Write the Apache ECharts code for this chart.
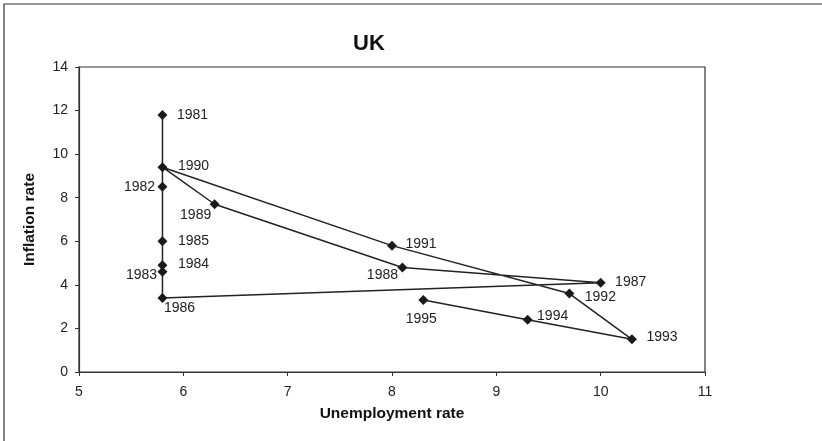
<!DOCTYPE html>
<html>
<head>
<meta charset="utf-8">
<script src="https://cdn.jsdelivr.net/npm/echarts@6/dist/echarts.min.js"></script>
<style>
html,body{margin:0;padding:0;background:#fff;}
#chart{width:822px;height:441px;}
</style>
</head>
<body>
<div id="chart"></div>
<script>
// ---- data ----
var years = ['1981','1982','1983','1984','1985','1986','1987','1988','1989','1990','1991','1992','1993','1994','1995'];
var unemployment = [5.8, 5.8, 5.8, 5.8, 5.8, 5.8, 10.0, 8.1, 6.3, 5.8, 8.0, 9.7, 10.3, 9.3, 8.3];
var inflation = [11.8, 8.5, 4.6, 4.9, 6.0, 3.4, 4.1, 4.8, 7.7, 9.4, 5.8, 3.6, 1.5, 2.4, 3.3];
var xTicks = [5, 6, 7, 8, 9, 10, 11];
var yTicks = [0, 2, 4, 6, 8, 10, 12, 14];

// ---- label styling: shift of each label's centre from its marker (px) ----
var labelShift = {
  '1981': [30, 0],  '1982': [-23, 0], '1983': [-21, 3], '1984': [31, -1],
  '1985': [31, 0],  '1986': [17, 10], '1987': [30, -1], '1988': [-20, 8],
  '1989': [-19, 11], '1990': [31, -1], '1991': [29, -2], '1992': [31, 4],
  '1993': [30, -2], '1994': [25, -4], '1995': [-2, 19]
};

var fam = "'Liberation Sans', Arial, sans-serif";

var seriesData = years.map(function (y, i) {
  return { value: [unemployment[i], inflation[i]], name: y };
});

var chart = echarts.init(document.getElementById('chart'), null, {renderer: 'canvas'});
chart.setOption({
  animation: false,
  backgroundColor: '#fff',
  graphic: [{
    type: 'rect',
    shape: {x: 4, y: 4, width: 900, height: 600},
    style: {fill: 'none', stroke: '#333', lineWidth: 1.2},
    silent: true
  }],
  title: {
    text: 'UK',
    left: 364, top: 28,
    textAlign: 'center',
    textStyle: {fontFamily: fam, fontWeight: 'bold', fontSize: 22, color: '#111'}
  },
  grid: {left: 79, top: 67, right: 117, bottom: 69, show: true, borderColor: '#333', borderWidth: 1.2, backgroundColor: 'transparent'},
  xAxis: {
    type: 'value', min: xTicks[0], max: xTicks[xTicks.length - 1], interval: 1,
    name: 'Unemployment rate', nameLocation: 'middle', nameGap: 34,
    nameTextStyle: {fontFamily: fam, fontWeight: 'bold', fontSize: 15.5, color: '#111'},
    axisLine: {show: true, lineStyle: {color: '#333', width: 1.2}},
    axisTick: {show: true, length: 4, lineStyle: {color: '#333'}},
    axisLabel: {color: '#222', fontFamily: fam, fontSize: 14, margin: 13},
    splitLine: {show: false}
  },
  yAxis: {
    type: 'value', min: yTicks[0], max: yTicks[yTicks.length - 1], interval: 2,
    name: 'Inflation rate', nameLocation: 'middle', nameGap: 41, nameRotate: 90,
    nameTextStyle: {fontFamily: fam, fontWeight: 'bold', fontSize: 15.5, color: '#111'},
    axisLine: {show: true, lineStyle: {color: '#333', width: 1.2}},
    axisTick: {show: true, length: 4, lineStyle: {color: '#333'}},
    axisLabel: {color: '#222', fontFamily: fam, fontSize: 14, margin: 11},
    splitLine: {show: false}
  },
  series: [{
    type: 'line',
    data: seriesData,
    symbol: 'diamond',
    symbolSize: 10,
    showAllSymbol: true,
    itemStyle: {color: '#1a1a1a'},
    lineStyle: {color: '#222', width: 1.5},
    label: {
      show: true, position: 'inside',
      formatter: function (p) { return p.name; },
      color: '#222', fontFamily: fam, fontSize: 14
    },
    labelLayout: function (params) {
      var s = labelShift[years[params.dataIndex]];
      return {dx: s[0], dy: s[1], hideOverlap: false};
    }
  }]
});
</script>
</body>
</html>
